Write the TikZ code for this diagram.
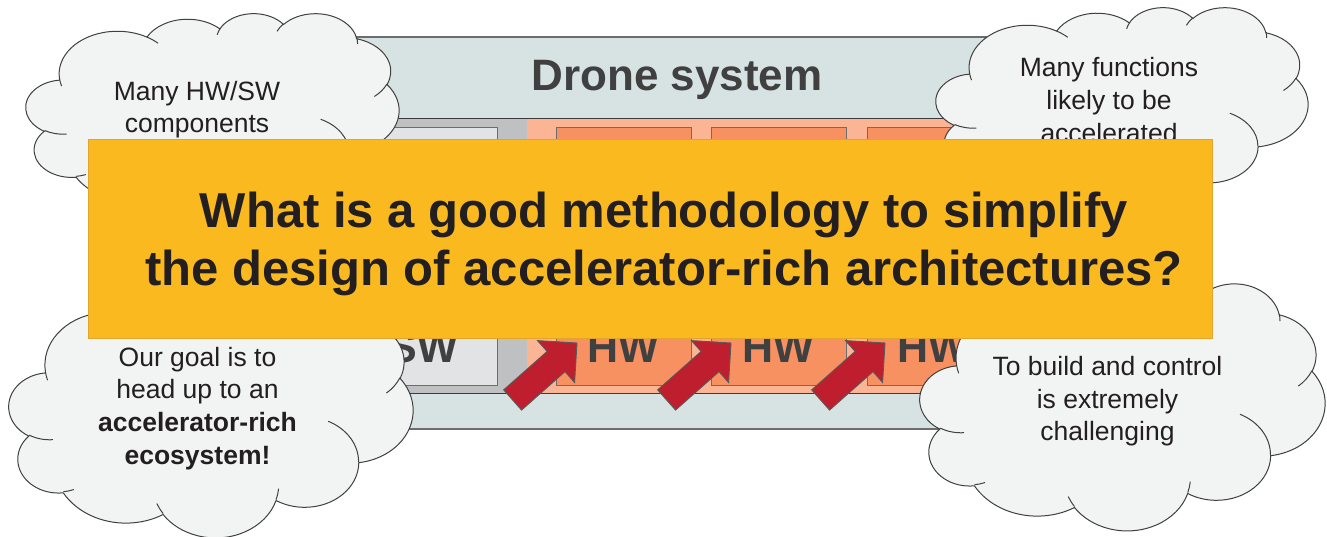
\documentclass[tikz,border=0pt]{standalone}
\usepackage{fontspec}
\setmainfont{Liberation Sans}
\usepackage{tikz}
\usetikzlibrary{positioning}
\definecolor{dronefill}{HTML}{D7E3E3}
\definecolor{droneline}{HTML}{6E6B71}
\definecolor{rowline}{HTML}{3A3A3C}
\definecolor{swzonefill}{HTML}{BFC0C2}
\definecolor{swfill}{HTML}{E2E3E5}
\definecolor{hwzonefill}{HTML}{FBB595}
\definecolor{hwfill}{HTML}{F79161}
\definecolor{boxline}{HTML}{6D6D6D}
\definecolor{labelgrey}{HTML}{404040}
\definecolor{arrowred}{HTML}{BE1E2D}
\definecolor{arrowline}{HTML}{5A5A5A}
\definecolor{cloudfill}{HTML}{F2F3F3}
\definecolor{cloudline}{HTML}{404040}
\definecolor{bannerfill}{HTML}{F9B91F}
\definecolor{bannerline}{HTML}{E2A42A}
\definecolor{inktext}{HTML}{231F20}

% office cloud: one arcTo, radii + start/sweep as visual angles
\newcommand\cloudarc[4]{arc[x radius=#1, y radius=#2,
  start angle={atan2(#1*sin(#3),#2*cos(#3))},
  delta angle={mod(atan2(#1*sin(#3+#4),#2*cos(#3+#4))-atan2(#1*sin(#3),#2*cos(#3))+720,360)}]}
% outline in a 4.32 x 4.32 box
\newcommand\cloudoutline{(0.3900,1.4370)
  \cloudarc{0.6753}{0.9190}{-190.4875}{123.7805}
  \cloudarc{0.5333}{0.7267}{-144.1024}{89.9452}
  \cloudarc{0.4365}{0.5945}{-145.8079}{99.7230}
  \cloudarc{0.4857}{0.6595}{-130.9861}{117.2417}
  \cloudarc{0.5333}{0.7273}{-78.7089}{109.0269}
  \cloudarc{0.6775}{0.9220}{-46.2673}{130.2690}
  \cloudarc{0.5785}{0.7867}{0.6250}{114.0333}
  \cloudarc{0.6752}{0.9215}{22.4516}{115.1726}
  \cloudarc{0.7720}{1.0543}{66.2426}{75.7110}
  \cloudarc{0.4360}{0.5918}{-274.9421}{146.7356}
  \cloudarc{0.4345}{0.5945}{-246.8285}{152.5189}
  -- cycle}
% the small inner curls
\newcommand\cloudcurls{
  (0.4693,2.6177) \cloudarc{0.4345}{0.5945}{86.742}{26.4295}
  (0.6928,3.4899) \cloudarc{0.4360}{0.5918}{73.6105}{11.4475}
  (1.6478,3.9090) \cloudarc{0.6752}{0.9215}{137.6242}{14.0811}
  (2.8827,3.4751) \cloudarc{0.6752}{0.9215}{6.4533}{15.9984}
  (3.4129,2.2954) \cloudarc{0.5785}{0.7867}{-70.2924}{70.9174}
  (4.1798,1.5354) \cloudarc{0.5333}{0.7273}{30.3180}{27.7515}
  (3.8324,0.5426) \cloudarc{0.4857}{0.6595}{-13.7443}{14.8589}
  (2.9078,0.3952) \cloudarc{0.4857}{0.6595}{-149.1815}{18.1954}
  (2.2141,0.4720) \cloudarc{0.4365}{0.5945}{-163.4943}{17.6864}
  (1.4000,0.5192) \cloudarc{0.6753}{0.9190}{-66.7070}{12.3194}
  (0.4127,1.5789) \cloudarc{0.6753}{0.9190}{157.6544}{11.8582}}

\begin{document}
\begin{tikzpicture}[x=1pt, y=1pt, yscale=-1,
  dronebox/.style={rectangle, draw=droneline, line width=1.2pt, fill=dronefill, minimum width=675pt, minimum height=392pt},
  zone/.style={rectangle, inner sep=0pt, minimum height=274pt},
  swbox/.style={rectangle, draw=boxline, fill=swfill, minimum width=147pt, minimum height=258pt, inner sep=0pt},
  hwbox/.style={rectangle, draw=boxline, fill=hwfill, minimum width=135pt, minimum height=258pt, inner sep=0pt},
  boxlabel/.style={anchor=base, inner sep=0pt, text=labelgrey, font=\fontsize{43}{50}\selectfont\bfseries},
  hwarrow/.style={draw=arrowline, fill=arrowred, line width=0.9pt, line join=miter},
  cloud/.style={draw=cloudline, fill=cloudfill, line width=1pt},
  curl/.style={draw=cloudline, line width=1pt},
  cloudtext/.style={align=center, inner sep=0pt, text=inktext, font=\fontsize{26.5}{32.8}\selectfont}]
\useasboundingbox (0,0) rectangle (1327,537);

% drone system with its SW/HW row
\node[dronebox] (drone) at (677.5,233) {};
\node[anchor=base, inner sep=0pt, text=labelgrey, font=\fontsize{44}{52}\selectfont\bfseries] (title) at (677,91) {Drone system};
\node[zone, fill=swzonefill, minimum width=186pt] (swzone) at (434,256) {};
\node[zone, fill=hwzonefill, minimum width=487pt] (hwzone) at (770.5,256) {};
\draw[rowline, line width=1pt] (swzone.north west) -- (hwzone.north east);
\draw[rowline, line width=1pt] (swzone.south west) -- (hwzone.south east);
\node[swbox] (sw) at (423.5,256) {};
\node[hwbox] (hwa) at (623.5,256) {};
\node[hwbox, right=20pt of hwa] (hwb) {};
\node[hwbox, right=20pt of hwb] (hwc) {};
\node[boxlabel] (swlabel) at (423.5,362) {SW};
\node[boxlabel] (hwalabel) at (623.5,362) {HW};
\node[boxlabel] (hwblabel) at (778.5,362) {HW};
\node[boxlabel] (hwclabel) at (933.5,362) {HW};

% block arrows into the accelerators
\draw[hwarrow, shift={(577,343)}, rotate=-41.5] (0,0) -- (-28,28) -- (-28,13.5) -- (-86,13.5) -- (-86,-13.5) -- (-28,-13.5) -- (-28,-28) -- cycle;
\draw[hwarrow, shift={(731,343)}, rotate=-41.5] (0,0) -- (-28,28) -- (-28,13.5) -- (-86,13.5) -- (-86,-13.5) -- (-28,-13.5) -- (-28,-28) -- cycle;
\draw[hwarrow, shift={(885,343)}, rotate=-41.5] (0,0) -- (-28,28) -- (-28,13.5) -- (-86,13.5) -- (-86,-13.5) -- (-28,-13.5) -- (-28,-28) -- cycle;

% clouds
\begin{scope}[shift={(26,13)}, xscale=86.34, yscale=46.30]
  \path[cloud] \cloudoutline;
  \path[curl] \cloudcurls;
\end{scope}
\node[cloudtext] (hwsw) at (197,109.6) {Many HW/SW\\components};

\begin{scope}[shift={(936,7)}, xscale=86.11, yscale=46.30]
  \path[cloud] \cloudoutline;
  \path[curl] \cloudcurls;
\end{scope}
\node[cloudtext] (funcs) at (1109,99.9) {Many functions\\likely to be\\accelerated};

\begin{scope}[shift={(9,290)}, xscale=93.52, yscale=57.18]
  \path[cloud] \cloudoutline;
  \path[curl] \cloudcurls;
\end{scope}
\node[cloudtext] (goal) at (197.5,408.5) {Our goal is to\\head up to an\\\textbf{accelerator-rich}\\\textbf{ecosystem!}};

\begin{scope}[shift={(920,283)}, xscale=93.75, yscale=57.18]
  \path[cloud] \cloudoutline;
  \path[curl] \cloudcurls;
\end{scope}
\node[cloudtext] (build) at (1107.5,401.3) {To build and control\\is extremely\\challenging};

% the question on top
\node[rectangle, draw=bannerline, line width=1pt, fill=bannerfill, minimum width=1124pt, minimum height=198pt] (banner) at (650,239) {};
\node[align=center, inner sep=0pt, text=inktext, font=\fontsize{49}{58}\selectfont\bfseries] (question) at (664,244) {What is a good methodology to simplify\\the design of accelerator-rich architectures?};
\end{tikzpicture}
\end{document}
